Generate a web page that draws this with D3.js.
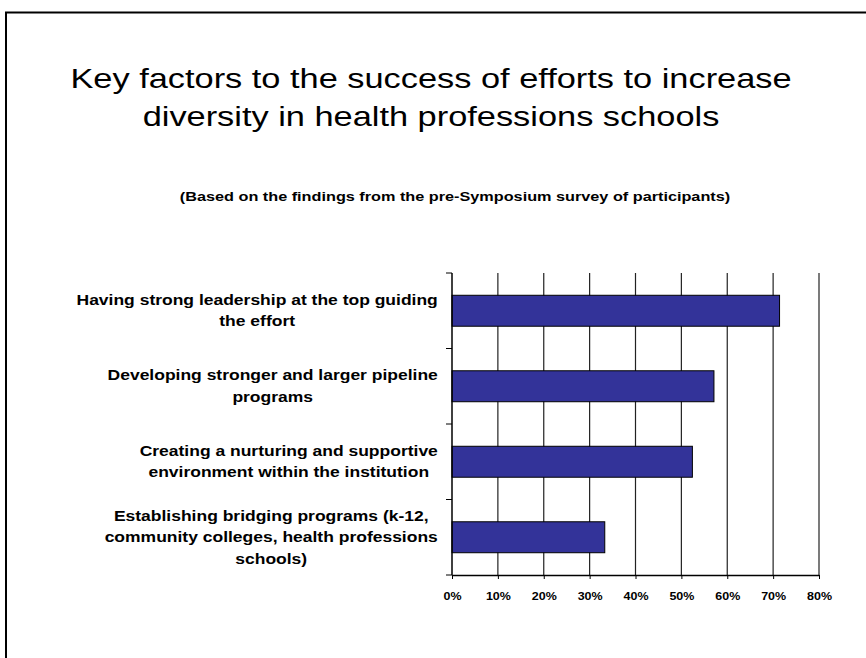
<!DOCTYPE html>
<html>
<head>
<meta charset="utf-8">
<script src="https://cdn.jsdelivr.net/npm/d3@7"></script>
<style>
  body { margin: 0; background: #fff; }
  svg { display: block; font-family: Arial, "Liberation Sans", sans-serif; }
</style>
</head>
<body>
<div class="chart"></div>
<script>
var svgWidth = 866;
var svgHeight = 658;

// chart data
var titleLines = ["Key factors to the success of efforts to increase", "diversity in health professions schools"];
var subtitle = "(Based on the findings from the pre-Symposium survey of participants)";
var categories = [
  ["Having strong leadership at the top guiding", "the effort"],
  ["Developing stronger and larger pipeline", "programs"],
  ["Creating a nurturing and supportive", "environment within the institution"],
  ["Establishing bridging programs (k-12,", "community colleges, health professions", "schools)"]
];
var values = [0.714, 0.571, 0.524, 0.333];
var xTicks = [0, 0.1, 0.2, 0.3, 0.4, 0.5, 0.6, 0.7, 0.8];

var margin = { top: 273, right: 47, bottom: 83, left: 452 };
var width = svgWidth - margin.left - margin.right;
var height = svgHeight - margin.top - margin.bottom;

// the slide text is drawn a bit wider than normal
var sx = 1.25;

var svg = d3.select(".chart")
  .append("svg")
  .attr("width", svgWidth)
  .attr("height", svgHeight);

// slide frame
svg.append("rect")
  .attr("x", 6)
  .attr("y", 12.5)
  .attr("width", 900)
  .attr("height", 700)
  .attr("fill", "none")
  .attr("stroke", "#000")
  .attr("stroke-width", 2);

// title
svg.append("g")
  .attr("transform", `translate(431, 0) scale(${sx}, 1)`)
  .append("text")
  .attr("text-anchor", "middle")
  .attr("font-size", 27.5)
  .selectAll("tspan")
  .data(titleLines)
  .enter().append("tspan")
    .attr("x", 0)
    .attr("y", (d, i) => 88.5 + i * 37.5)
    .text(d => d);

svg.append("g")
  .attr("transform", `translate(455, 0) scale(${sx}, 1)`)
  .append("text")
  .attr("x", 0)
  .attr("y", 201)
  .attr("text-anchor", "middle")
  .attr("font-size", 13)
  .attr("font-weight", "bold")
  .text(subtitle);

var chartGroup = svg.append("g")
  .attr("transform", `translate(${margin.left}, ${margin.top})`);

var xScale = d3.scaleLinear()
  .domain([0, 0.8])
  .range([0, width]);

var yScale = d3.scaleBand()
  .domain(d3.range(categories.length))
  .range([0, height]);

// vertical gridlines
chartGroup.append("g")
  .selectAll("line")
  .data(xTicks.slice(1))
  .enter().append("line")
    .attr("x1", d => xScale(d))
    .attr("x2", d => xScale(d))
    .attr("y1", 0)
    .attr("y2", height)
    .attr("stroke", "#222")
    .attr("stroke-width", 1.2);

// bars
var barH = yScale.bandwidth() * 0.41;
chartGroup.selectAll(".bar")
  .data(values)
  .enter().append("rect")
    .attr("class", "bar")
    .attr("x", 0)
    .attr("y", (d, i) => yScale(i) + (yScale.bandwidth() - barH) / 2)
    .attr("width", d => xScale(d))
    .attr("height", barH)
    .attr("fill", "#333399")
    .attr("stroke", "#000")
    .attr("stroke-width", 1);

// x axis
var bottomAxis = d3.axisBottom(xScale)
  .tickValues(xTicks)
  .tickFormat(d3.format(".0%"))
  .tickSize(4)
  .tickSizeOuter(0);

var xAxis = chartGroup.append("g")
  .attr("transform", `translate(0, ${height})`)
  .call(bottomAxis);
xAxis.select(".domain").attr("stroke", "#000").attr("stroke-width", 1.5);
xAxis.selectAll("line").attr("stroke", "#000");
xAxis.selectAll("text")
  .attr("y", 17.5)
  .attr("dy", "0.71em")
  .attr("transform", `scale(${sx}, 1)`)
  .attr("font-size", 10)
  .attr("font-weight", "bold")
  .attr("font-family", "Arial, 'Liberation Sans', sans-serif")
  .attr("fill", "#000");

// y axis: ticks between categories
var tickPos = d3.range(categories.length + 1).map(i => i * yScale.step());
var yAxis = chartGroup.append("g");
yAxis.append("line")
  .attr("x1", 0).attr("x2", 0)
  .attr("y1", 0).attr("y2", height)
  .attr("stroke", "#000")
  .attr("stroke-width", 1.5);
yAxis.selectAll(".ytick")
  .data(tickPos)
  .enter().append("line")
    .attr("class", "ytick")
    .attr("x1", -6).attr("x2", 0)
    .attr("y1", d => d).attr("y2", d => d)
    .attr("stroke", "#000");

// category labels, each block centred, widest line ending near the axis
var labelRight = -14;
var lineH = 21.5;
categories.forEach(function (lines, i) {
  var g = chartGroup.append("g");
  var t = g.append("text")
    .attr("font-size", 14)
    .attr("font-weight", "bold")
    .attr("text-anchor", "middle");
  var cy = yScale(i) + yScale.bandwidth() / 2;
  var y0 = cy - (lines.length - 1) * lineH / 2;
  var spans = t.selectAll("tspan")
    .data(lines)
    .enter().append("tspan")
      .attr("x", 0)
      .attr("y", (d, j) => y0 + j * lineH)
      .attr("dy", "0.35em")
      .text(d => d);
  var maxW = d3.max(spans.nodes(), n => n.getComputedTextLength());
  g.attr("transform", `translate(${labelRight - maxW * sx / 2}, 0) scale(${sx}, 1)`);
});
</script>
</body>
</html>
